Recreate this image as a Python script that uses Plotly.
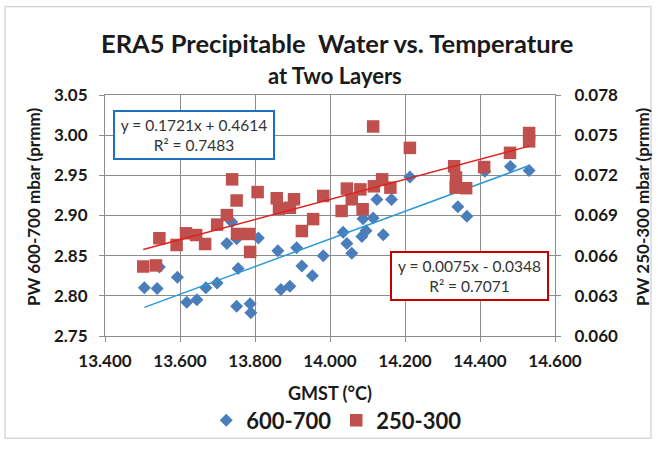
import plotly.graph_objects as go
import numpy as np

# ---- data ----
gmst_600_700 = [13.505, 13.539, 13.545, 13.593, 13.618, 13.645, 13.669, 13.699, 13.725, 13.738,
                13.751, 13.755, 13.751, 13.787, 13.789, 13.809, 13.861, 13.869, 13.893, 13.911,
                13.925, 13.953, 13.982, 14.035, 14.045, 14.058, 14.085, 14.096, 14.088, 14.115,
                14.125, 14.142, 14.164, 14.213, 14.341, 14.365, 14.413, 14.481, 14.531]
pw_600_700 = [2.810, 2.809, 2.836, 2.823, 2.792, 2.795, 2.810, 2.816, 2.865, 2.892,
              2.871, 2.834, 2.787, 2.790, 2.779, 2.872, 2.856, 2.808, 2.812, 2.860,
              2.837, 2.825, 2.850, 2.879, 2.865, 2.853, 2.874, 2.881, 2.896, 2.897,
              2.920, 2.876, 2.920, 2.948, 2.911, 2.899, 2.955, 2.961, 2.956]

gmst_250_300 = [13.502, 13.536, 13.545, 13.591, 13.616, 13.643, 13.667, 13.699, 13.725, 13.739,
                13.751, 13.752, 13.784, 13.787, 13.807, 13.858, 13.864, 13.893, 13.904, 13.925,
                13.955, 13.982, 14.031, 14.045, 14.058, 14.081, 14.087, 14.115, 14.117, 14.139,
                14.161, 14.213, 14.331, 14.336, 14.335, 14.363, 14.411, 14.480, 14.531, 14.531]
pw_250_300 = [0.06519, 0.06527, 0.06730, 0.06680, 0.06767, 0.06754, 0.06687, 0.06832, 0.06903, 0.07170,
              0.07012, 0.06762, 0.06762, 0.06628, 0.07075, 0.07029, 0.06951, 0.06958, 0.07021, 0.06784,
              0.06873, 0.07046, 0.06934, 0.07101, 0.07021, 0.07095, 0.06947, 0.07565, 0.07118, 0.07170,
              0.07108, 0.07405, 0.07268, 0.07184, 0.07108, 0.07104, 0.07262, 0.07368, 0.07516, 0.07454]

# trendline coefficients as printed on the chart
slope_600_700, intercept_600_700, r2_600_700 = 0.1721, 0.4614, 0.7483
slope_250_300, intercept_250_300, r2_250_300 = 0.0075, -0.0348, 0.7071

series_names = ["600-700", "250-300"]
title_text = "ERA5 Precipitable  Water vs. Temperature"
subtitle_text = "at Two Layers"

FONT = "Lato"
TXT = "#1a1a1a"
GRID = "#8c8c8c"
BLUE_M = "#4a7ebb"
RED_M = "#c0504d"
BLUE_L = "#2a97d8"
RED_L = "#e0201c"

fig = go.Figure()

fig.add_trace(go.Scatter(x=gmst_600_700, y=pw_600_700, mode="markers", name=series_names[0],
                         marker=dict(symbol="diamond", size=10, color=BLUE_M), yaxis="y"))
bx = np.array([min(gmst_600_700), max(gmst_600_700)])
fig.add_trace(go.Scatter(x=bx, y=slope_600_700 * bx + intercept_600_700, mode="lines",
                         line=dict(color=BLUE_L, width=1.5), showlegend=False, yaxis="y"))

fig.add_trace(go.Scatter(x=gmst_250_300, y=pw_250_300, mode="markers", name=series_names[1],
                         marker=dict(symbol="square", size=12.5, color=RED_M), yaxis="y2"))
rx = np.array([min(gmst_250_300), max(gmst_250_300)])
fig.add_trace(go.Scatter(x=rx, y=slope_250_300 * rx + intercept_250_300, mode="lines",
                         line=dict(color=RED_L, width=1.5), showlegend=False, yaxis="y2"))

tickfont = dict(family=FONT, size=17, color=TXT, weight="bold")

fig.update_layout(
    width=658, height=454,
    margin=dict(l=105, r=103, t=95, b=116),
    paper_bgcolor="white", plot_bgcolor="white",
    showlegend=True,
    legend=dict(orientation="h", x=0.515, xanchor="center", y=-0.35, yanchor="middle",
                font=dict(family=FONT, size=22, color=TXT, weight="bold"),
                itemwidth=30, bgcolor="rgba(0,0,0,0)"),
    xaxis=dict(range=[13.4, 14.6], dtick=0.2, tick0=13.4, tickformat=".3f",
               showgrid=True, gridcolor=GRID, gridwidth=1,
               showline=True, linecolor=GRID, linewidth=1, mirror=True,
               ticks="outside", ticklen=5, tickcolor=GRID, tickfont=tickfont,
               ticklabelstandoff=5, zeroline=False),
    yaxis=dict(range=[2.75, 3.05], dtick=0.05, tick0=2.75, tickformat=".2f",
               showgrid=True, gridcolor=GRID, gridwidth=1,
               showline=True, linecolor=GRID, linewidth=1, mirror=True,
               ticks="outside", ticklen=5, tickcolor=GRID, tickfont=tickfont,
               ticklabelstandoff=8, zeroline=False),
    yaxis2=dict(range=[0.060, 0.078], dtick=0.003, tick0=0.060, tickformat=".3f",
                overlaying="y", side="right", showgrid=False,
                showline=True, linecolor=GRID, linewidth=1,
                ticks="outside", ticklen=5, tickcolor=GRID, tickfont=tickfont,
                ticklabelstandoff=10, zeroline=False),
)

def px_x(px):
    return (px - 105) / 450.0

def px_y(py):
    return (338 - py) / 243.0

ann = []
ann.append(dict(text=title_text, x=px_x(337), y=px_y(43), xref="paper", yref="paper",
                showarrow=False, xanchor="center", yanchor="middle",
                font=dict(family=FONT, size=25.5, color=TXT, weight="bold")))
ann.append(dict(text=subtitle_text, x=px_x(335), y=px_y(75), xref="paper", yref="paper",
                showarrow=False, xanchor="center", yanchor="middle",
                font=dict(family=FONT, size=22, color=TXT, weight="bold")))
ann.append(dict(text="PW 600-700 mbar (prmm)", x=px_x(33), y=px_y(208), xref="paper", yref="paper",
                showarrow=False, textangle=-90, xanchor="center", yanchor="middle",
                font=dict(family=FONT, size=17, color=TXT, weight="bold")))
ann.append(dict(text="PW 250-300 mbar (prmm)", x=px_x(642), y=px_y(208), xref="paper", yref="paper",
                showarrow=False, textangle=-90, xanchor="center", yanchor="middle",
                font=dict(family=FONT, size=17, color=TXT, weight="bold")))
ann.append(dict(text="GMST (°C)", x=px_x(330), y=px_y(395), xref="paper", yref="paper",
                showarrow=False, xanchor="center", yanchor="middle",
                font=dict(family=FONT, size=18, color=TXT, weight="bold")))

eq1 = f"y = {slope_600_700:.4f}x + {intercept_600_700:.4f}<br>R² = {r2_600_700:.4f}"
eq2 = f"y = {slope_250_300:.4f}x - {abs(intercept_250_300):.4f}<br>R² = {r2_250_300:.4f}"
ann.append(dict(text=eq1, x=px_x(194), y=px_y(135), xref="paper", yref="paper",
                showarrow=False, xanchor="center", yanchor="middle",
                width=156, height=44, borderpad=1, bordercolor="#1f70c1", borderwidth=2,
                bgcolor="white", font=dict(family=FONT, size=15.5, color="#333333")))
ann.append(dict(text=eq2, x=px_x(469), y=px_y(278), xref="paper", yref="paper",
                showarrow=False, xanchor="center", yanchor="middle",
                width=153, height=44, borderpad=1, bordercolor="#c00000", borderwidth=2,
                bgcolor="white", font=dict(family=FONT, size=15.5, color="#333333")))
fig.update_layout(annotations=ann)

fig.add_shape(type="rect", xref="paper", yref="paper",
              x0=px_x(5), x1=px_x(651), y0=px_y(441), y1=px_y(6),
              line=dict(color="#c4c4c4", width=1), fillcolor="rgba(0,0,0,0)", layer="below")

fig.write_html("out.html")
